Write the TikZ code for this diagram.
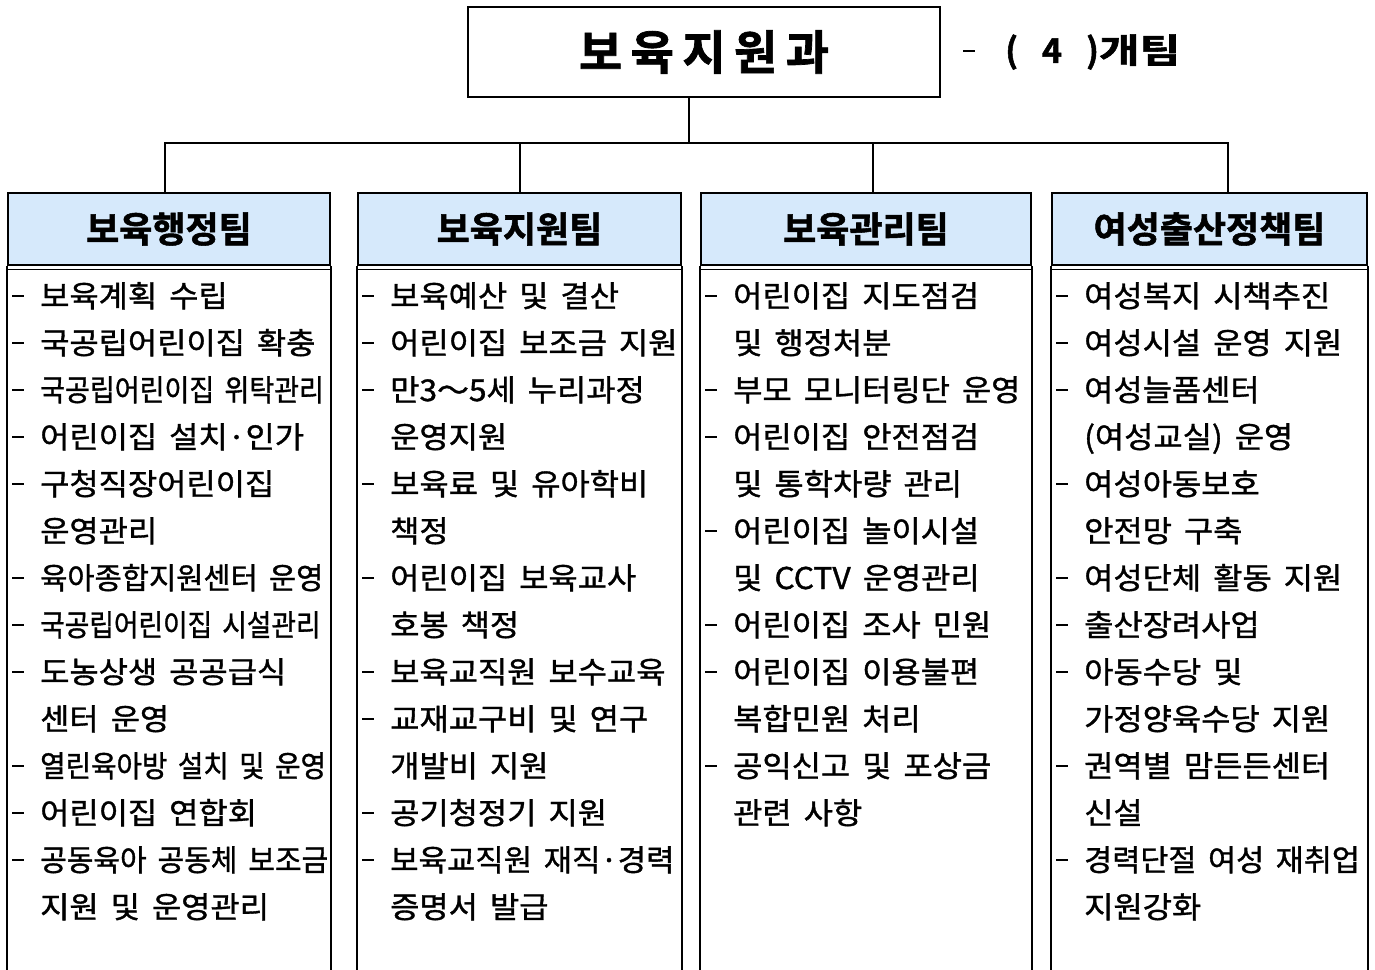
\documentclass[tikz,border=0pt]{standalone}
\usepackage{fontspec}
\setmainfont{Noto Sans CJK KR}
\newfontfamily\dutyfont{Noto Sans CJK KR}[FakeBold=1.2, FakeStretch=1.06]
\newfontfamily\headfont{Noto Sans CJK KR Bold}[FakeBold=1.5]
\usetikzlibrary{positioning}
\definecolor{hdrblue}{RGB}{214,233,251}
\newcommand{\dutysize}{\dutyfont\fontsize{30}{47}\selectfont\spaceskip=12pt\relax}

\tikzset{
	dept/.style={draw, line width=2pt, minimum width=472pt, minimum height=90pt, inner sep=0pt},
	teamhead/.style={draw, line width=1.6pt, fill=hdrblue, minimum width=#1, minimum height=72pt, inner sep=0pt, font=\headfont\fontsize{36}{36}\selectfont},
	duties/.style={anchor=base west, align=left, inner sep=0pt, font=\dutysize},
	link/.style={line width=2pt},
	frame/.style={line width=1.8pt},
}
\newcommand{\dsh}{\makebox[28pt][l]{\rule[10pt]{12pt}{1.6pt}}}
\newcommand{\cnt}{\hspace*{28pt}}
\newcommand{\sqz}[2]{\scalebox{#1}[1]{#2}}

\begin{document}
\begin{tikzpicture}[x=1pt, y=-1pt]
	\useasboundingbox (0,0) rectangle (1375,969);
	% department and team count
	\node[dept] (dept) at (704,52) {\headfont\fontsize{47}{47}\selectfont\addfontfeatures{LetterSpace=18}보육지원과};
	\node[right=22pt of dept, inner sep=0pt, font=\headfont\fontsize{34}{34}\selectfont] (count) {\rule[11pt]{12pt}{1.6pt}\hspace{30pt}(\hspace{24pt}4\hspace{24pt})\sqz{1.3}{개팀}};
	% team headers
	\node[teamhead=322pt] (t1) at (169,229) {보육행정팀};
	\node[teamhead=323pt] (t2) at (519.5,229) {보육지원팀};
	\node[teamhead=330pt] (t3) at (866,229) {보육관리팀};
	\node[teamhead=315pt] (t4) at (1209.5,229) {여성출산정책팀};
	% connectors
	\coordinate (bar) at (689,143);
	\draw[link] ([xshift=-15pt]dept.south) -- (bar);
	\draw[link] ([xshift=-4pt]t1.north) |- (bar);
	\draw[link] (t2.north) |- (bar);
	\draw[link] ([xshift=7pt]t3.north) |- (bar);
	\draw[link] ([xshift=18.5pt]t4.north) |- (bar);
	% column frames
	\foreach \t in {t1,t2,t3,t4}{
		\draw[frame] (\t.south west) -- ++(0,710);
		\draw[frame] (\t.south east) -- ++(0,710);
		\draw[line width=1pt] ([yshift=-4pt]\t.south west) -- ([yshift=-4pt]\t.south east);
	}
	% duties (anchored at the baseline of the last line)
	\node[duties] (d1) at (12,918) {\dsh 보육계획 수립\\
		\dsh 국공립어린이집 확충\\
		\dsh \sqz{0.85}{국공립어린이집 위탁관리}\\
		\dsh 어린이집 설치·인가\\
		\dsh 구청직장어린이집\\
		\cnt 운영관리\\
		\dsh \sqz{0.93}{육아종합지원센터 운영}\\
		\dsh \sqz{0.84}{국공립어린이집 시설관리}\\
		\dsh 도농상생 공공급식\\
		\cnt 센터 운영\\
		\dsh \sqz{0.87}{열린육아방 설치 및 운영}\\
		\dsh 어린이집 연합회\\
		\dsh \sqz{0.91}{공동육아 공동체 보조금}\\
		\cnt 지원 및 운영관리};
	\node[duties] (d2) at (362,918) {\dsh 보육예산 및 결산\\
		\dsh 어린이집 보조금 지원\\
		\dsh 만3～5세 누리과정\\
		\cnt 운영지원\\
		\dsh 보육료 및 유아학비\\
		\cnt 책정\\
		\dsh 어린이집 보육교사\\
		\cnt 호봉 책정\\
		\dsh 보육교직원 보수교육\\
		\dsh 교재교구비 및 연구\\
		\cnt 개발비 지원\\
		\dsh 공기청정기 지원\\
		\dsh \sqz{0.97}{보육교직원 재직·경력}\\
		\cnt 증명서 발급};
	\node[duties] (d3) at (705,824) {\dsh 어린이집 지도점검\\
		\cnt 및 행정처분\\
		\dsh 부모 모니터링단 운영\\
		\dsh 어린이집 안전점검\\
		\cnt 및 통학차량 관리\\
		\dsh 어린이집 놀이시설\\
		\cnt 및 CCTV 운영관리\\
		\dsh 어린이집 조사 민원\\
		\dsh 어린이집 이용불편\\
		\cnt 복합민원 처리\\
		\dsh 공익신고 및 포상금\\
		\cnt 관련 사항};
	\node[duties] (d4) at (1056,918) {\dsh 여성복지 시책추진\\
		\dsh 여성시설 운영 지원\\
		\dsh 여성늘품센터\\
		\cnt (여성교실) 운영\\
		\dsh 여성아동보호\\
		\cnt 안전망 구축\\
		\dsh 여성단체 활동 지원\\
		\dsh 출산장려사업\\
		\dsh 아동수당 및\\
		\cnt 가정양육수당 지원\\
		\dsh 권역별 맘든든센터\\
		\cnt 신설\\
		\dsh \sqz{0.96}{경력단절 여성 재취업}\\
		\cnt 지원강화};
\end{tikzpicture}
\end{document}
